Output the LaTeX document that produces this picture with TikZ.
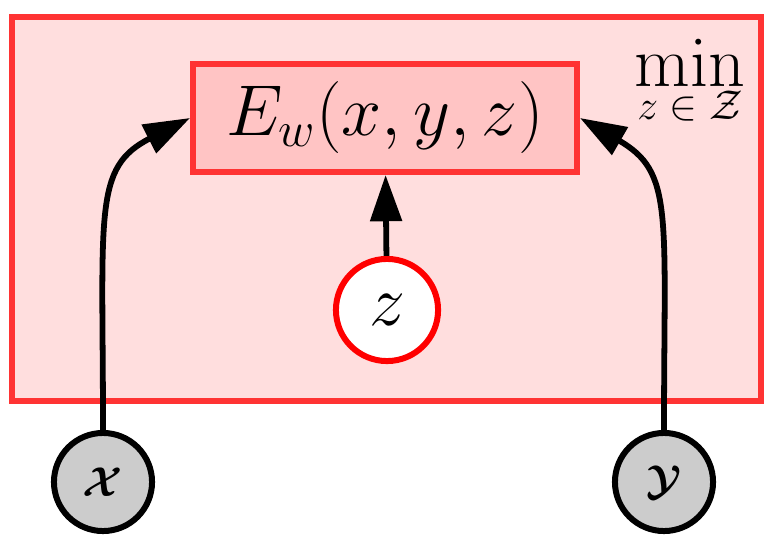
\documentclass[tikz,border=0pt]{standalone}
\usepackage{amsmath,amssymb}
\usetikzlibrary{
    arrows.meta,
    positioning
}

\begin{document}
\begin{tikzpicture}[
    x=0.3456pt,
    y=-0.3456pt,
    every node/.style={
        font=\fontsize{24.88pt}{30pt}\selectfont
    },
    energybox/.style={
        draw=red!80,
        fill=red!23,
        line width=2.07pt,
        inner sep=0pt,
        minimum width=132.7pt,
        minimum height=37.3pt,
        font=\fontsize{26.4pt}{31pt}\selectfont
    },
    latentnode/.style={
        circle,
        draw=red,
        fill=white,
        line width=2.07pt,
        inner sep=0pt,
        minimum size=35.3pt
    },
    obsnode/.style={
        circle,
        draw=black,
        fill=black!20,
        line width=2.07pt,
        inner sep=0pt,
        minimum size=33.9pt,
        font=\fontsize{15pt}{18pt}\selectfont
    },
    arrowline/.style={
        line width=2pt,
        -{Triangle[length=16pt, width=10.7pt]}
    }
]

    \useasboundingbox (0,0) rectangle (765,535);

    % -------------------------------------------------------
    % Minimisation plate
    % -------------------------------------------------------
    \draw[
        draw=red!80,
        fill=red!13,
        line width=2.4pt
    ]
        (12,17) rectangle (761,401);

    \node[
        anchor=base,
        inner sep=0pt,
        font=\fontsize{25.5pt}{30pt}\selectfont
    ] (minop) at (690,87)
        {$\min$};

    \node[
        anchor=base,
        inner sep=0pt,
        font=\fontsize{15pt}{18pt}\selectfont
    ] (minset) at (690,120)
        {$z\in\mathcal{Z}$};

    % -------------------------------------------------------
    % Energy and variables
    % -------------------------------------------------------
    \node[energybox] (energy) at (385,118)
        {$E_w(x,y,z)$};

    \node[latentnode] (latent) at (387,310)
        {$z$};

    \node[obsnode] (xnode) at (103,482)
        {$\boldsymbol{\mathcal{X}}$};

    \node[obsnode] (ynode) at (664,482)
        {$\boldsymbol{\mathcal{Y}}$};

    % -------------------------------------------------------
    % Connections
    % -------------------------------------------------------
    \draw[arrowline]
        (latent) -- (energy);

    \draw[arrowline]
        (xnode.north)
        to[out=90, in=207, out looseness=1.73, in looseness=0.86]
        (energy.west);

    \draw[arrowline]
        (ynode.north)
        to[out=90, in=-30, out looseness=1.73, in looseness=0.86]
        (energy.east);

\end{tikzpicture}
\end{document}
